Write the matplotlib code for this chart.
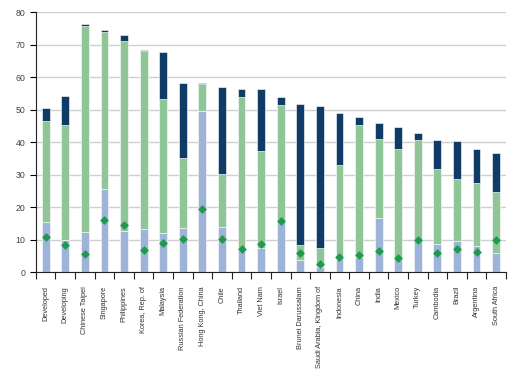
import matplotlib
matplotlib.use("Agg")
from matplotlib import pyplot as plt
import numpy as np

plt.rcParams["font.family"] = ["Liberation Sans", "DejaVu Sans"]

countries = ["Developed", "Developing", "Chinese Taipei", "Singapore", "Philippines",
             "Korea, Rep. of", "Malaysia", "Russian Federation", "Hong Kong, China",
             "Chile", "Thailand", "Viet Nam", "Israel", "Brunei Darussalam",
             "Saudi Arabia, Kingdom of", "Indonesia", "China", "India", "Mexico",
             "Turkey", "Cambodia", "Brazil", "Argentina", "South Africa"]

# stacked segments (tops)
blue_top = [15.4, 10.0, 12.3, 25.5, 12.6, 13.3, 11.9, 13.7, 49.5, 14.0, 6.8, 7.4,
            15.7, 3.6, 1.5, 4.6, 4.8, 16.6, 4.1, 9.9, 8.5, 9.7, 8.1, 5.8]
green_top = [46.6, 45.4, 75.6, 73.8, 71.0, 67.9, 53.4, 35.1, 57.8, 30.2, 54.0, 37.3,
             51.5, 8.4, 7.3, 33.0, 45.2, 41.1, 37.9, 40.7, 31.8, 28.5, 27.4, 24.6]
total = [50.6, 54.3, 76.3, 74.4, 73.1, 68.4, 67.7, 58.3, 58.1, 57.1, 56.4, 56.3,
         54.0, 51.7, 51.0, 49.0, 47.6, 45.8, 44.6, 42.8, 40.8, 40.5, 37.9, 36.8]
diamond = [10.7, 8.3, 5.5, 15.9, 14.5, 6.7, 9.1, 10.3, 19.4, 10.1, 7.2, 8.8,
           15.7, 5.9, 2.4, 4.7, 5.3, 6.4, 4.3, 10.0, 5.9, 7.1, 6.3, 9.9]

blue = np.array(blue_top)
green = np.array(green_top) - blue
navy = np.array(total) - np.array(green_top)
x = np.arange(len(countries))

fig = plt.figure(figsize=(5.2, 3.79), dpi=100)
ax = fig.add_axes([0.069, 0.282, 0.904, 0.686])

w = 0.4
ax.bar(x, blue, w, color="#9db3d7", edgecolor="white", linewidth=0.4, zorder=2)
ax.bar(x, green, w, bottom=blue, color="#8fc597", edgecolor="white", linewidth=0.4, zorder=2)
ax.bar(x, navy, w, bottom=blue + green, color="#0e3c66", edgecolor="white", linewidth=0.4, zorder=2)
ax.scatter(x, diamond, marker="D", s=20, color="#1f9a4a", zorder=3, linewidths=0)

ax.set_ylim(0, 80)
ax.set_xlim(-0.5, len(countries) - 0.5)
ax.set_yticks(range(0, 81, 10))
ax.yaxis.grid(True, color="#cfcfcf", linewidth=1.0, zorder=0)
ax.set_axisbelow(True)

ax.set_xticks(x)
ax.set_xticklabels(countries, rotation=90, fontsize=5.3, color="#333333")
ax.tick_params(axis="x", length=0, pad=10)
ax.set_xticks(np.arange(-0.5, len(countries)), minor=True)
ax.tick_params(axis="x", which="minor", length=5, width=0.8, color="#222222")
ax.tick_params(axis="y", labelsize=6.3, labelcolor="#444444", length=4, width=0.8)

for s in ["top", "right"]:
    ax.spines[s].set_visible(False)
for s in ["left", "bottom"]:
    ax.spines[s].set_color("#222222")
    ax.spines[s].set_linewidth(0.8)

plt.savefig("out.png", dpi=100)
